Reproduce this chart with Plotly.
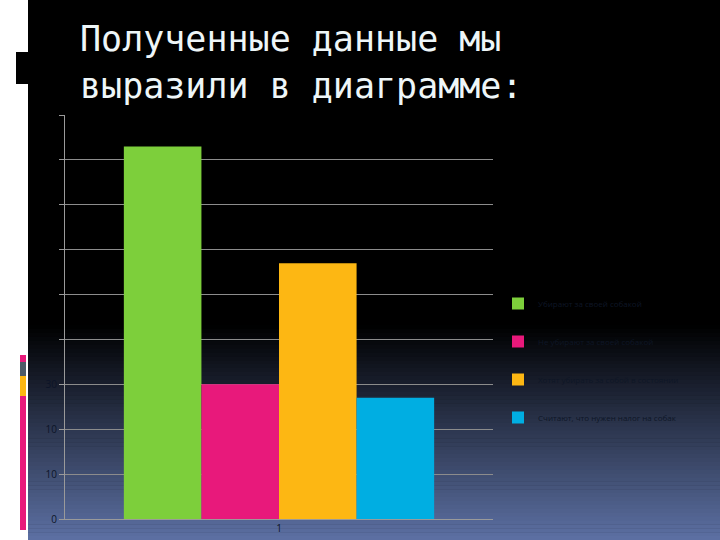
import plotly.graph_objects as go

# ---- data ----
categories = ["1"]
series_names = [
    "Убирают за своей собакой",
    "Не убирают за своей собакой",
    "Хотят убирать за собой в состоянии",
    "Считают, что нужен налог на собак",
]
series_values = [83, 30, 57, 27]
series_colors = ["#7dcf3b", "#e8197b", "#fdb713", "#00aee2"]
y_ticks = [0, 10, 20, 30, 40, 50, 60, 70, 80, 90]
y_tick_labels = ["0", "10", "10", "30", "", "", "", "", "", ""]

W, H = 720, 540
L, R, T, B = 65, 227, 115, 21
PW, PH = W - L - R, H - T - B


def px(x):
    return (x - L) / PW


def py(y):
    return (H - B - y) / PH


fig = go.Figure()
for i, (name, val, col) in enumerate(zip(series_names, series_values, series_colors)):
    fig.add_trace(go.Bar(x=categories, y=[val], name=name, marker_color=col,
                         marker_line_width=0, legendgroup=f"g{i}"))

shapes = []
# background gradient (black -> slate blue)
y0, y1 = 325, 540
steps = 55
top = (0, 0, 0)
bot = (93, 113, 164)
for k in range(steps):
    ya = y0 + (y1 - y0) * k / steps
    yb = y0 + (y1 - y0) * (k + 1) / steps + 0.5
    t = (k + 0.5) / steps
    c = tuple(int(top[j] + (bot[j] - top[j]) * t) for j in range(3))
    shapes.append(dict(type="rect", xref="paper", yref="paper", layer="below",
                       x0=px(28), x1=px(720), y0=py(yb), y1=py(ya),
                       fillcolor=f"rgb{c}", line_width=0))
# left white strip
shapes.append(dict(type="rect", xref="paper", yref="paper", layer="below",
                   x0=px(0), x1=px(28), y0=py(540), y1=py(0),
                   fillcolor="white", line_width=0))
# black block on strip
shapes.append(dict(type="rect", xref="paper", yref="paper", layer="below",
                   x0=px(16), x1=px(28), y0=py(84), y1=py(52),
                   fillcolor="black", line_width=0))
# colored decoration bars
for (a, b, c) in [(355, 362, "#e8197b"), (362, 376, "#4d5b68"),
                  (376, 396, "#fdb713"), (396, 530, "#e8197b")]:
    shapes.append(dict(type="rect", xref="paper", yref="paper", layer="below",
                       x0=px(20), x1=px(26), y0=py(b), y1=py(a),
                       fillcolor=c, line_width=0))

title_font = dict(family="DejaVu Sans Mono", size=35, color="#eef6f8")
annotations = [
    dict(text="Полученные данные мы", xref="paper", yref="paper",
         x=px(78), y=py(39), xanchor="left", yanchor="middle",
         showarrow=False, font=title_font),
    dict(text="выразили в диаграмме:", xref="paper", yref="paper",
         x=px(78), y=py(86), xanchor="left", yanchor="middle",
         showarrow=False, font=title_font),
]

fig.update_layout(
    width=W, height=H,
    margin=dict(l=L, r=R, t=T, b=B, autoexpand=False),
    paper_bgcolor="black",
    plot_bgcolor="rgba(0,0,0,0)",
    barmode="group",
    bargap=0.275,
    bargroupgap=0,
    shapes=shapes,
    annotations=annotations,
    showlegend=True,
    legend=dict(x=px(498), y=py(289), xanchor="left", yanchor="top",
                bgcolor="rgba(0,0,0,0)", traceorder="grouped",
                tracegroupgap=19, itemwidth=30,
                font=dict(family="Open Sans", size=8, color="#0e1626")),
    xaxis=dict(type="category", showgrid=False, showline=True,
               linecolor="#9a9a9a", linewidth=1, ticks="",
               tickfont=dict(family="Open Sans", size=10, color="#0c1428"),
               fixedrange=True),
    yaxis=dict(range=[0, 90], tickvals=y_ticks, ticktext=y_tick_labels,
               showgrid=True, gridcolor="#8c8c8c", gridwidth=1,
               showline=True, linecolor="#9a9a9a", linewidth=1,
               ticks="outside", ticklen=5, tickcolor="#9a9a9a",
               zeroline=False,
               tickfont=dict(family="Open Sans", size=10, color="#0c1428")),
)

fig.write_html(
    "out.html",
    config={"displayModeBar": False, "responsive": False},
    post_script=(
        "document.documentElement.style.overflow='hidden';"
        "document.body.style.overflow='hidden';"
        "document.body.style.margin='0';"
        "document.body.style.background='black';"
    ),
)
